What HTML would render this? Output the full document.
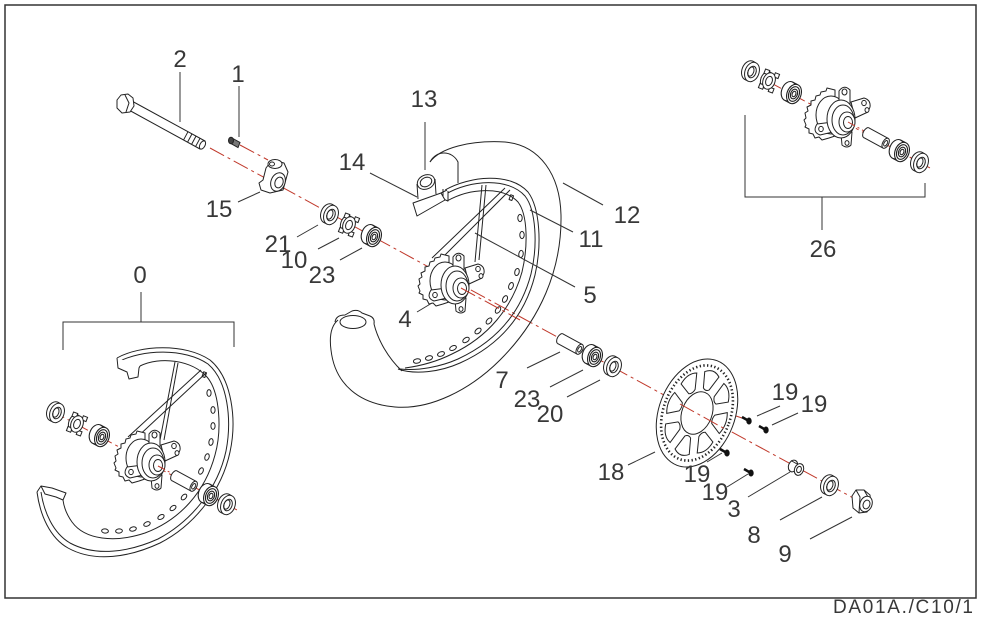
<!DOCTYPE html>
<html><head><meta charset="utf-8"><style>
html,body{margin:0;padding:0;background:#fff;}
svg{display:block;}
text{font-family:"Liberation Sans",sans-serif;font-size:24px;fill:#383838;text-anchor:middle;}
</style></head><body>
<svg width="982" height="627" viewBox="0 0 982 627" xmlns="http://www.w3.org/2000/svg">
<defs>
 <g id="seal"><g transform="rotate(21)" fill="#fff" stroke="#222" stroke-width="1">
   <ellipse cx="-3.4" cy="-0.4" rx="7" ry="10"/>
   <path d="M-3.4,-10.4 L0,-10 M-3.4,9.6 L0,10" fill="none"/>
   <ellipse rx="7" ry="10"/>
   <ellipse rx="4" ry="6"/>
   <ellipse cx="-1.2" rx="2.8" ry="4.8" fill="none"/>
 </g></g>
 <g id="brg"><g transform="rotate(21)" fill="#fff" stroke="#222" stroke-width="1.1">
   <ellipse cx="-6" cy="-0.7" rx="7" ry="10"/>
   <path d="M-6,-10.7 L0,-10 M-6,9.3 L0,10" fill="none"/>
   <ellipse rx="7" ry="10"/>
   <ellipse rx="5.2" ry="7.6"/>
   <ellipse rx="3.4" ry="5"/>
   <ellipse rx="1.8" ry="2.8"/>
 </g></g>
 <g id="spc"><g transform="rotate(21)" fill="#fff" stroke="#222" stroke-width="1">
   <ellipse cx="-2.5" cy="-0.3" rx="6" ry="8.5"/>
   <rect x="3" y="-10" width="4.5" height="4.5"/>
   <rect x="-7.5" y="-10" width="4.5" height="4.5"/>
   <rect x="-7.5" y="5.5" width="4.5" height="4.5"/>
   <rect x="3" y="5.5" width="4.5" height="4.5"/>
   <ellipse rx="6" ry="8.5"/>
   <ellipse rx="3.2" ry="4.8"/>
 </g></g>
 <g id="slv"><g transform="rotate(28.6)" fill="#fff" stroke="#222" stroke-width="1">
   <ellipse cx="-11" rx="3" ry="5.5"/>
   <rect x="-11" y="-5.5" width="22" height="11" stroke="none"/>
   <path d="M-11,-5.5 L11,-5.5 M-11,5.5 L11,5.5" fill="none"/>
   <ellipse cx="11" rx="3" ry="5.5"/>
   <ellipse cx="11" rx="1.6" ry="3"/>
 </g></g>
 <g id="hub" fill="#fff" stroke="#222" stroke-width="1" stroke-linejoin="round">
   <path d="M-6,-27 L-10,-28 L-11,-25 L-16,-24 L-17,-21 L-21,-20 L-22,-16 L-26,-15 L-26,-11 L-30,-9 L-29,-5 L-32,-3 L-31,2 L-33,4 L-31,9 L-32,11 L-28,13 L-28,17 L-24,18 L-22,22 L-18,21 L-15,24 L-8,22 L-2,20 L-2,-26 Z"/>
   <ellipse cx="-6" cy="-1" rx="15" ry="19"/>
   <path d="M2,-12 L2,-25 Q7,-32 13,-26 L13,-10 Z"/>
   <ellipse cx="7.5" cy="-24" rx="2.5" ry="3"/>
   <path d="M14,-14 L27,-18 Q34,-16 33,-9 L31,-4 L18,2 Z"/>
   <ellipse cx="27" cy="-13" rx="2.3" ry="2.6"/>
   <ellipse cx="30" cy="-6" rx="2" ry="2.4"/>
   <path d="M-20,8 Q-25,16 -17,19 L-4,16 L-4,6 Z"/>
   <ellipse cx="-16" cy="13" rx="2.3" ry="2.6"/>
   <path d="M4,18 L5,29 Q10,33 14,29 L15,16 Z"/>
   <ellipse cx="10" cy="27" rx="2" ry="2.4"/>
   <ellipse cx="4" cy="3" rx="14" ry="19"/>
   <ellipse cx="6" cy="4" rx="11" ry="15" fill="none"/>
   <ellipse cx="10" cy="6" rx="8" ry="10"/>
   <ellipse cx="11" cy="6.5" rx="4.5" ry="6"/>
 </g>
</defs>

<!-- frame -->
<rect x="5" y="5" width="971" height="593" fill="none" stroke="#333" stroke-width="1.5"/>

<!-- red axes -->
<g stroke="#c0392b" stroke-width="1" fill="none" stroke-dasharray="16,4,3,4">
 <line x1="210" y1="148" x2="868" y2="506"/>
 <line x1="240" y1="145" x2="268" y2="160"/>
 <line x1="50" y1="410" x2="237" y2="510"/>
 <line x1="743" y1="68" x2="930" y2="168"/>
 <line x1="733" y1="415" x2="748" y2="420"/>
 <line x1="712" y1="443" x2="726" y2="452"/>
</g>

<!-- ===== MAIN WHEEL ===== -->
<g fill="none" stroke="#222" stroke-width="1" stroke-linejoin="round">
 <!-- tire -->
 <path d="M430,162 C440,148 470,140 505,142 C540,145 560,175 561,215 C562,270 540,320 500,360 C470,390 430,410 395,407 C360,404 335,385 331,350 C329,335 332,325 338,320"/>
 <path d="M430,162 C436,150 452,150 458,162 L458,183"/>
 <path d="M335,322 Q336,315 345,315 L352,311 Q358,309 362,313 L370,316 Q375,318 374,324"/>
 <ellipse cx="353" cy="322" rx="13" ry="6.5"/>
 <path d="M374,324 C378,340 388,358 402,371"/>
 <!-- rim -->
 <path d="M445,190 C470,176 510,172 528,192 C540,208 542,245 535,275 C525,315 500,345 460,363 C440,372 415,375 398,369"/>
 <path d="M446,194 C470,180 508,177 525,196 C536,210 538,245 531,274 C521,312 497,341 458,359 C440,367 418,371 400,369"/>
 <path d="M447,201 C470,188 503,186 518,202 C528,215 528,247 522,272 C512,308 488,337 452,354 C436,362 420,366 405,368"/>
 <path d="M443,189 L443,199 L448,201 L448,191" fill="#fff"/>
 <rect x="510" y="195" width="3" height="5" transform="rotate(20 511 197)"/>
 <g>
  <ellipse cx="520" cy="218" rx="2.2" ry="3.6"/>
  <ellipse cx="522" cy="235" rx="2.2" ry="3.6"/>
  <ellipse cx="521" cy="254" rx="2.2" ry="3.6" transform="rotate(8 521 254)"/>
  <ellipse cx="517" cy="272" rx="2.2" ry="3.6" transform="rotate(14 517 272)"/>
  <ellipse cx="511" cy="286" rx="2.2" ry="3.6" transform="rotate(20 511 286)"/>
  <ellipse cx="505" cy="299" rx="2.2" ry="3.6" transform="rotate(27 505 299)"/>
  <ellipse cx="498" cy="310" rx="2.2" ry="3.6" transform="rotate(34 498 310)"/>
  <ellipse cx="489" cy="321" rx="2.2" ry="3.6" transform="rotate(42 489 321)"/>
  <ellipse cx="478" cy="331" rx="2.2" ry="3.6" transform="rotate(50 478 331)"/>
  <ellipse cx="466" cy="340" rx="2.2" ry="3.6" transform="rotate(57 466 340)"/>
  <ellipse cx="453" cy="348" rx="2.2" ry="3.6" transform="rotate(64 453 348)"/>
  <ellipse cx="441" cy="354" rx="2.2" ry="3.6" transform="rotate(70 441 354)"/>
  <ellipse cx="429" cy="358" rx="2.2" ry="3.6" transform="rotate(75 429 358)"/>
  <ellipse cx="417" cy="361" rx="2.2" ry="3.6" transform="rotate(80 417 361)"/>
 </g>
 <!-- spokes -->
 <line x1="432" y1="258" x2="505" y2="188"/>
 <line x1="437" y1="263" x2="510" y2="190"/>
 <line x1="482" y1="185" x2="475" y2="262"/>
 <line x1="486" y1="185" x2="479" y2="260"/>
 <!-- tube 13 & strip 14 -->
 <path d="M417,184 L418,199 M435,179 L436,194"/>
 <ellipse cx="426" cy="182" rx="9" ry="7" transform="rotate(-25 426 182)" fill="#fff"/>
 <ellipse cx="426" cy="182" rx="6" ry="4.5" transform="rotate(-25 426 182)"/>
 <path d="M413,203 L441,193 L445,200 L417,216 Z" fill="#fff"/>
 <path d="M441,193 L447,190"/>
</g>
<use href="#hub" x="451" y="282"/>
<line x1="461" y1="288" x2="520" y2="320" stroke="#c0392b" stroke-width="1" stroke-dasharray="16,4,3,4"/>

<!-- bolt 2 -->
<g fill="#fff" stroke="#222" stroke-width="1" stroke-linejoin="round">
 <path d="M130,100 L205,141 L200,149 L127,109 Z"/>
 <ellipse cx="202.5" cy="145" rx="2.5" ry="4.5" transform="rotate(29 202.5 145)"/>
 <path d="M188,131.7 L183.7,139.7 M192,133.9 L187.7,141.9 M196,136.1 L191.7,144.1 M200,138.3 L195.7,146.3" fill="none"/>
 <path d="M117,100 L121,95 L128,94 L133,98 L134,106 L130,112 L122,113 L117,108 Z"/>
 <path d="M125,95 L129,103 L126,112" fill="none"/>
</g>
<!-- screw 1 -->
<g stroke="#222" stroke-width="1">
 <path d="M232,138 L240,142.5 L238,147.5 L230,143 Z" fill="#777"/>
 <ellipse cx="231" cy="140.5" rx="2.5" ry="3.3" fill="#444"/>
</g>
<!-- clamp 15 -->
<g fill="#fff" stroke="#222" stroke-width="1" stroke-linejoin="round">
 <path d="M266,168 L263,180 L259,183 L261,190 L270,193 L283,190 L288,172 L284,163 L272,160 Z"/>
 <ellipse cx="275" cy="164" rx="7" ry="4.5"/>
 <ellipse cx="272" cy="164" rx="2.5" ry="2"/>
 <ellipse cx="278" cy="182" rx="7" ry="9.5" transform="rotate(21 278 182)"/>
 <ellipse cx="279" cy="182.5" rx="4" ry="5.5" transform="rotate(21 279 182.5)"/>
</g>

<!-- axle parts -->
<use href="#seal" x="331" y="215"/>
<use href="#spc" x="349" y="225"/>
<use href="#brg" x="374" y="237"/>
<use href="#slv" x="570" y="344"/>
<use href="#brg" x="595" y="357"/>
<use href="#seal" x="614" y="367"/>

<!-- disc 18 -->
<g fill="none" stroke="#222" stroke-width="1">
 <ellipse cx="697" cy="413" rx="38" ry="56" transform="rotate(21 697 413)" fill="#fff"/>
 <ellipse cx="697" cy="413" rx="33.5" ry="49.3" transform="rotate(21 697 413)" stroke-width="2.6" stroke-dasharray="1.3 2.4"/>
 <ellipse cx="697" cy="413" rx="15" ry="22" transform="rotate(21 697 413)"/>
 <g transform="translate(697,413) rotate(21) scale(38,56)">
  <path vector-effect="non-scaling-stroke" d="M0.46,-0.08 L0.74,-0.2 Q0.86,0 0.74,0.2 L0.46,0.08 Q0.41,0 0.46,-0.08 Z"/>
  <path vector-effect="non-scaling-stroke" transform="rotate(45)" d="M0.46,-0.08 L0.74,-0.2 Q0.86,0 0.74,0.2 L0.46,0.08 Q0.41,0 0.46,-0.08 Z"/>
  <path vector-effect="non-scaling-stroke" transform="rotate(90)" d="M0.46,-0.08 L0.74,-0.2 Q0.86,0 0.74,0.2 L0.46,0.08 Q0.41,0 0.46,-0.08 Z"/>
  <path vector-effect="non-scaling-stroke" transform="rotate(135)" d="M0.46,-0.08 L0.74,-0.2 Q0.86,0 0.74,0.2 L0.46,0.08 Q0.41,0 0.46,-0.08 Z"/>
  <path vector-effect="non-scaling-stroke" transform="rotate(180)" d="M0.46,-0.08 L0.74,-0.2 Q0.86,0 0.74,0.2 L0.46,0.08 Q0.41,0 0.46,-0.08 Z"/>
  <path vector-effect="non-scaling-stroke" transform="rotate(225)" d="M0.46,-0.08 L0.74,-0.2 Q0.86,0 0.74,0.2 L0.46,0.08 Q0.41,0 0.46,-0.08 Z"/>
  <path vector-effect="non-scaling-stroke" transform="rotate(270)" d="M0.46,-0.08 L0.74,-0.2 Q0.86,0 0.74,0.2 L0.46,0.08 Q0.41,0 0.46,-0.08 Z"/>
  <path vector-effect="non-scaling-stroke" transform="rotate(315)" d="M0.46,-0.08 L0.74,-0.2 Q0.86,0 0.74,0.2 L0.46,0.08 Q0.41,0 0.46,-0.08 Z"/>
 </g>
</g>
<line x1="680" y1="404" x2="725" y2="429" stroke="#c0392b" stroke-width="1" stroke-dasharray="16,4,3,4"/>
<!-- screws 19 -->
<g stroke="#111" fill="#111">
 <line x1="742" y1="417" x2="748" y2="420.5" stroke-width="2.5"/>
 <ellipse cx="749" cy="421" rx="2.2" ry="3"/>
 <line x1="759" y1="426" x2="765" y2="429.5" stroke-width="2.5"/>
 <ellipse cx="766" cy="430" rx="2.2" ry="3"/>
 <line x1="720" y1="449" x2="726" y2="452.5" stroke-width="2.5"/>
 <ellipse cx="727" cy="453" rx="2.2" ry="3"/>
 <line x1="744" y1="469" x2="750" y2="472.5" stroke-width="2.5"/>
 <ellipse cx="751" cy="473" rx="2.2" ry="3"/>
</g>
<!-- collar 3, washer 8, nut 9 -->
<g fill="#fff" stroke="#222" stroke-width="1" stroke-linejoin="round">
 <ellipse cx="793" cy="466" rx="4.5" ry="6" transform="rotate(21 793 466)"/>
 <path d="M791,460.5 L797,464 M795,471.5 L801,475" fill="none"/>
 <ellipse cx="799" cy="469.5" rx="4.5" ry="6" transform="rotate(21 799 469.5)"/>
 <ellipse cx="799" cy="469.5" rx="2.3" ry="3.2" transform="rotate(21 799 469.5)"/>
 <use href="#seal" x="831" y="486"/>
 <path d="M852,496 L856,490 L864,490 L870,495 L871,505 L867,512 L859,513 L853,508 Z"/>
 <path d="M856,490 L860,497 L859,513 M864,490 L868,497" fill="none"/>
 <ellipse cx="866" cy="504" rx="6" ry="8" transform="rotate(21 866 504)"/>
 <ellipse cx="866.5" cy="504.5" rx="3.3" ry="4.5" transform="rotate(21 866.5 504.5)"/>
</g>

<!-- ===== ASSEMBLY 26 (top right) ===== -->
<use href="#seal" x="752" y="72"/>
<use href="#spc" x="769" y="81"/>
<use href="#brg" x="794" y="94"/>
<use href="#hub" x="837" y="116"/>
<line x1="848" y1="122" x2="866" y2="132" stroke="#c0392b" stroke-width="1" stroke-dasharray="8,3,2,3"/>
<use href="#slv" x="876" y="138"/>
<use href="#brg" x="902" y="152"/>
<use href="#seal" x="921" y="163"/>

<!-- ===== ASSEMBLY 0 (left) ===== -->
<g fill="none" stroke="#222" stroke-width="1" stroke-linejoin="round">
 <path d="M117,358 C140,345 185,343 210,360 C232,378 237,420 230,452 C222,490 195,525 160,543 C130,557 95,563 68,548 C50,538 40,515 37,492"/>
 <path d="M118,362 C142,349 185,348 208,364 C228,381 232,420 226,451 C218,488 192,521 158,539 C129,552 96,557 70,543 C53,533 44,512 41,492"/>
 <path d="M140,366 C160,356 192,360 207,377 C220,392 222,430 215,455 C205,492 180,520 145,533 C115,543 85,540 72,522 C67,515 64,508 63,500"/>
 <path d="M117,358 L118,368 L127,372 L129,379 L138,377 L139,368 L140,366" fill="#fff"/>
 <path d="M37,492 L41,486 L52,488 L66,493 L63,500 M41,486 L45,494 L56,497 L63,500"/>
 <rect x="203" y="372" width="3" height="5" transform="rotate(20 204 374)"/>
 <ellipse cx="209" cy="393" rx="2.1" ry="3.4"/>
 <ellipse cx="213" cy="410" rx="2.1" ry="3.4"/>
 <ellipse cx="213" cy="426" rx="2.1" ry="3.4"/>
 <ellipse cx="211" cy="442" rx="2.1" ry="3.4" transform="rotate(10 211 442)"/>
 <ellipse cx="207" cy="457" rx="2.1" ry="3.4" transform="rotate(18 207 457)"/>
 <ellipse cx="201" cy="471" rx="2.1" ry="3.4" transform="rotate(26 201 471)"/>
 <ellipse cx="193" cy="485" rx="2.1" ry="3.4" transform="rotate(35 193 485)"/>
 <ellipse cx="184" cy="497" rx="2.1" ry="3.4" transform="rotate(43 184 497)"/>
 <ellipse cx="173" cy="508" rx="2.1" ry="3.4" transform="rotate(52 173 508)"/>
 <ellipse cx="161" cy="517" rx="2.1" ry="3.4" transform="rotate(60 161 517)"/>
 <ellipse cx="147" cy="524" rx="2.1" ry="3.4" transform="rotate(68 147 524)"/>
 <ellipse cx="133" cy="529" rx="2.1" ry="3.4" transform="rotate(76 133 529)"/>
 <ellipse cx="119" cy="531" rx="2.1" ry="3.4" transform="rotate(84 119 531)"/>
 <ellipse cx="105" cy="531" rx="2.1" ry="3.4" transform="rotate(95 105 531)"/>
 <line x1="128" y1="437" x2="201" y2="370"/>
 <line x1="133" y1="441" x2="206" y2="373"/>
 <line x1="175" y1="362" x2="160" y2="440"/>
 <line x1="178" y1="363" x2="164" y2="440"/>
</g>
<use href="#seal" x="57" y="413"/>
<use href="#spc" x="77" y="424"/>
<use href="#brg" x="102" y="437"/>
<use href="#hub" x="147" y="459"/>
<line x1="158" y1="466" x2="175" y2="475" stroke="#c0392b" stroke-width="1" stroke-dasharray="8,3,2,3"/>
<use href="#slv" x="184" y="481"/>
<use href="#brg" x="211" y="496"/>
<use href="#seal" x="228" y="505"/>

<!-- leaders & brackets -->
<g stroke="#333" stroke-width="1" fill="none">
 <line x1="180" y1="72" x2="180" y2="122"/>
 <line x1="239" y1="86" x2="239" y2="137"/>
 <line x1="238" y1="202" x2="260" y2="192"/>
 <line x1="297" y1="237" x2="318" y2="225"/>
 <line x1="318" y1="249" x2="339" y2="238"/>
 <line x1="340" y1="260" x2="362" y2="248"/>
 <path d="M141,292 L141,322 M63,350 L63,322 L234,322 L234,347"/>
 <line x1="425" y1="122" x2="425" y2="170"/>
 <line x1="370" y1="173" x2="417" y2="197"/>
 <line x1="563" y1="183" x2="603" y2="205"/>
 <line x1="530" y1="210" x2="573" y2="232"/>
 <line x1="475" y1="233" x2="575" y2="287"/>
 <line x1="417" y1="312" x2="432" y2="303"/>
 <line x1="527" y1="368" x2="560" y2="352"/>
 <line x1="550" y1="387" x2="583" y2="370"/>
 <line x1="567" y1="397" x2="600" y2="380"/>
 <line x1="628" y1="465" x2="655" y2="452"/>
 <line x1="757" y1="416" x2="780" y2="406"/>
 <line x1="772" y1="425" x2="798" y2="413"/>
 <line x1="707" y1="462" x2="722" y2="453"/>
 <line x1="727" y1="487" x2="748" y2="474"/>
 <line x1="748" y1="497" x2="790" y2="472"/>
 <line x1="780" y1="520" x2="822" y2="497"/>
 <line x1="810" y1="539" x2="852" y2="517"/>
 <path d="M745,115 L745,197 L925,197 L925,183 M822,197 L822,230"/>
</g>

<!-- labels -->
<text x="180" y="67">2</text>
<text x="238" y="82">1</text>
<text x="219" y="217">15</text>
<text x="278" y="252">21</text>
<text x="294" y="268">10</text>
<text x="322" y="283">23</text>
<text x="140" y="283">0</text>
<text x="424" y="107">13</text>
<text x="352" y="170">14</text>
<text x="627" y="223">12</text>
<text x="591" y="247">11</text>
<text x="590" y="303">5</text>
<text x="405" y="327">4</text>
<text x="502" y="388">7</text>
<text x="527" y="407">23</text>
<text x="550" y="422">20</text>
<text x="611" y="480">18</text>
<text x="785" y="400">19</text>
<text x="814" y="412">19</text>
<text x="697" y="482">19</text>
<text x="715" y="500">19</text>
<text x="734" y="517">3</text>
<text x="754" y="543">8</text>
<text x="785" y="562">9</text>
<text x="823" y="257">26</text>
<text x="833" y="613" style="text-anchor:start;font-size:19px" textLength="140" lengthAdjust="spacing">DA01A./C10/1</text>
</svg>
</body></html>
